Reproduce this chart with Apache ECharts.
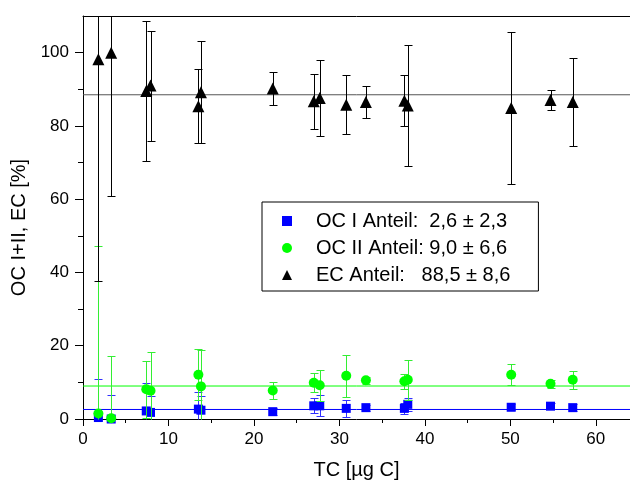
<!DOCTYPE html>
<html>
<head>
<meta charset="utf-8">
<script src="https://cdn.jsdelivr.net/npm/echarts@6/dist/echarts.min.js"></script>
<style>
html,body{margin:0;padding:0;background:#fff;}
#chart{width:630px;height:485px;}
</style>
</head>
<body>
<div id="chart"></div>
<script>
// ---- data ----
const tc      = [1.8, 3.3, 7.4, 7.9, 13.5, 13.8, 22.2, 27.0, 27.7, 30.8, 33.1, 37.6, 38.0, 50.1, 54.7, 57.3];
const ocI     = [0.4, 0.0, 2.2, 1.8, 2.7, 2.4, 2.0, 3.6, 3.6, 2.9, 3.1, 2.9, 4.0, 3.2, 3.5, 3.1];
const ocIErr  = [10.4, 6.5, 7.7, 4.4, 4.8, 4.0, 1.0, 2.0, 2.9, 2.4, 0.8, 1.5, 1.8, 0.8, 0.8, 1.0];
const ocII    = [1.5, 0.2, 8.1, 7.7, 12.1, 8.9, 7.8, 9.9, 9.2, 11.8, 10.6, 10.3, 10.7, 12.1, 9.6, 10.7];
const ocIIErr = [45.6, 17.0, 7.7, 10.7, 7.0, 10.0, 2.3, 2.6, 4.2, 5.8, 1.0, 2.0, 5.5, 2.9, 1.1, 2.4];
const ec      = [98.2, 100.0, 89.5, 91.0, 85.4, 89.2, 90.2, 86.7, 87.6, 85.8, 86.5, 86.9, 85.6, 84.9, 87.1, 86.5];
const ecErr   = [60.6, 39.0, 19.0, 15.0, 10.0, 14.0, 4.6, 7.6, 10.4, 8.1, 4.4, 7.0, 16.5, 20.7, 2.8, 12.0];
const meanOCI = 2.6, meanOCII = 9.0, meanEC = 88.5;
const names   = ['OC I Anteil:  2,6 ± 2,3', 'OC II Anteil: 9,0 ± 6,6', 'EC Anteil:   88,5 ± 8,6'];
const xMajor  = [0, 10, 20, 30, 40, 50, 60];
const xMinor  = [5, 15, 25, 35, 45, 55];
const yMajor  = [0, 20, 40, 60, 80, 100];
const yMinor  = [10, 30, 50, 70, 90];
const xTitle  = 'TC [µg C]';
const yTitle  = 'OC I+II, EC [%]';

const X_MIN = 0, X_MAX = 64, Y_MIN = 0, Y_MAX = 110;
const FONT = 'Liberation Sans, Arial, sans-serif';

function errData(vals, errs) {
  return tc.map((x, i) => [x, vals[i] - errs[i], vals[i] + errs[i]]);
}
function errRender(color) {
  return function (params, api) {
    const x = api.value(0);
    let lo = api.value(1), hi = api.value(2);
    const capLo = lo >= Y_MIN, capHi = hi <= Y_MAX;
    lo = Math.max(lo, Y_MIN); hi = Math.min(hi, Y_MAX);
    const pLo = api.coord([x, lo]), pHi = api.coord([x, hi]);
    const px = Math.round(pLo[0]) + 0.5;
    const yl = Math.round(pLo[1]) + 0.5, yh = Math.round(pHi[1]) + 0.5;
    const hw = 4;
    const st = {stroke: color, lineWidth: 1, fill: null};
    const ch = [{type: 'line', shape: {x1: px, y1: yl, x2: px, y2: yh}, style: st}];
    if (capLo) ch.push({type: 'line', shape: {x1: px - hw, y1: yl, x2: px + hw, y2: yl}, style: st});
    if (capHi) ch.push({type: 'line', shape: {x1: px - hw, y1: yh, x2: px + hw, y2: yh}, style: st});
    return {type: 'group', children: ch};
  };
}
function pts(vals) { return tc.map((x, i) => [x, vals[i]]); }
function meanSeries(name, v, color, z) {
  return {type: 'line', name: name, data: [[X_MIN, v], [X_MAX, v]], symbol: 'none', silent: true,
          lineStyle: {color: color, width: 1, opacity: 1}, itemStyle: {color: color}, z: z};
}

const chart = echarts.init(document.getElementById('chart'), null, {renderer: 'canvas'});
const axisLineStyle = {color: '#000', width: 1};
chart.setOption({
  animation: false,
  backgroundColor: '#fff',
  textStyle: {fontFamily: FONT},
  grid: {left: 83, right: 0, top: 16, bottom: 62},
  legend: {
    orient: 'vertical', left: 262, top: 202,
    padding: [9, 28, 6, 20],
    itemWidth: 10, itemHeight: 10, itemGap: 7,
    borderColor: '#000', borderWidth: 1, backgroundColor: '#fff',
    textStyle: {fontFamily: FONT, fontSize: 20, color: '#000', padding: [0, 0, 0, 19]},
    data: names,
    selectedMode: false
  },
  xAxis: [
    {type: 'value', min: X_MIN, max: X_MAX, position: 'bottom',
     axisLine: {show: true, onZero: false, lineStyle: axisLineStyle},
     axisTick: {show: true, length: 7, inside: false, customValues: xMajor, lineStyle: axisLineStyle},
     axisLabel: {show: true, customValues: xMajor, fontSize: 17, color: '#000', margin: 12, fontFamily: FONT},
     splitLine: {show: false},
     name: xTitle, nameLocation: 'middle', nameGap: 41,
     nameTextStyle: {fontSize: 20, color: '#000', fontFamily: FONT}},
    {type: 'value', min: X_MIN, max: X_MAX, position: 'bottom',
     axisLine: {show: false},
     axisTick: {show: true, length: 4, inside: false, customValues: xMinor, lineStyle: axisLineStyle},
     axisLabel: {show: false}, splitLine: {show: false}},
    {type: 'value', min: X_MIN, max: X_MAX, position: 'top',
     axisLine: {show: true, onZero: false, lineStyle: axisLineStyle},
     axisTick: {show: false}, axisLabel: {show: false}, splitLine: {show: false}}
  ],
  yAxis: [
    {type: 'value', min: Y_MIN, max: Y_MAX, position: 'left',
     axisLine: {show: true, onZero: false, lineStyle: axisLineStyle},
     axisTick: {show: true, length: 8, inside: false, customValues: yMajor, lineStyle: axisLineStyle},
     axisLabel: {show: true, customValues: yMajor, fontSize: 17, color: '#000', margin: 14, fontFamily: FONT},
     splitLine: {show: false},
     name: yTitle, nameLocation: 'middle', nameGap: 46,
     nameTextStyle: {fontSize: 20, color: '#000', fontFamily: FONT, padding: [0, 20, 0, 0]}},
    {type: 'value', min: Y_MIN, max: Y_MAX, position: 'left',
     axisLine: {show: false},
     axisTick: {show: true, length: 5, inside: false, customValues: yMinor, lineStyle: axisLineStyle},
     axisLabel: {show: false}, splitLine: {show: false}}
  ],
  series: [
    meanSeries('meanOCI', meanOCI, '#0000ff', 1),
    meanSeries('meanOCII', meanOCII, '#00ff00', 1),
    meanSeries('meanEC', meanEC, '#555555', 1),
    {type: 'custom', name: 'errOCI', renderItem: errRender('#3030ff'), data: errData(ocI, ocIErr), z: 2, silent: true},
    {type: 'scatter', name: names[0], data: pts(ocI), symbol: 'rect', symbolSize: 9,
     itemStyle: {color: '#0000ff', opacity: 1}, z: 3},
    {type: 'custom', name: 'errOCII', renderItem: errRender('#33ee33'), data: errData(ocII, ocIIErr), z: 4, silent: true},
    {type: 'scatter', name: names[1], data: pts(ocII), symbol: 'circle', symbolSize: 10,
     itemStyle: {color: '#00ff00', opacity: 1}, z: 5},
    {type: 'custom', name: 'errEC', renderItem: errRender('#000000'), data: errData(ec, ecErr), z: 6, silent: true},
    {type: 'scatter', name: names[2], data: pts(ec), symbol: 'triangle', symbolSize: 12,
     itemStyle: {color: '#000000', opacity: 1}, z: 7}
  ]
});
</script>
</body>
</html>
